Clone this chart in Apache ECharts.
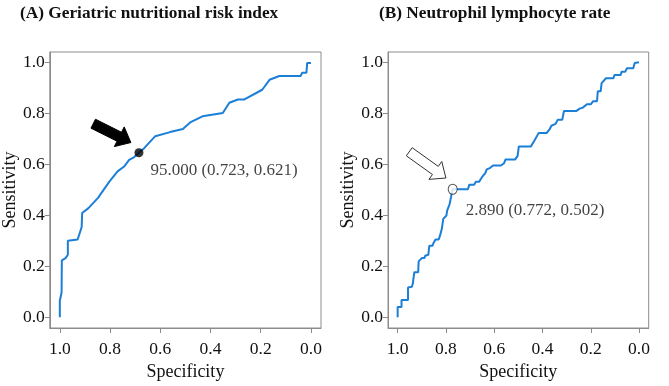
<!DOCTYPE html>
<html>
<head>
<meta charset="utf-8">
<script src="https://cdn.jsdelivr.net/npm/echarts@6/dist/echarts.min.js"></script>
<style>
  html, body { margin: 0; padding: 0; background: #fff; }
  #chart { width: 669px; height: 386px; }
</style>
</head>
<body>
<div id="chart"></div>
<script>
// ROC curves: [specificity, sensitivity]
var gnriRoc = [
    [1.0, 0.0], [1.0, 0.065], [0.993, 0.097], [0.992, 0.223], [0.977, 0.232], [0.968, 0.245],
    [0.968, 0.30], [0.929, 0.305], [0.913, 0.354], [0.911, 0.409], [0.886, 0.428], [0.847, 0.469],
    [0.834, 0.488], [0.802, 0.533], [0.77, 0.572], [0.744, 0.591], [0.724, 0.617], [0.705, 0.627],
    [0.685, 0.645], [0.665, 0.662], [0.62, 0.71], [0.561, 0.726], [0.51, 0.738], [0.481, 0.764],
    [0.432, 0.788], [0.351, 0.801], [0.325, 0.841], [0.291, 0.854], [0.265, 0.854], [0.194, 0.892],
    [0.165, 0.931], [0.126, 0.946], [0.041, 0.946], [0.035, 0.959], [0.018, 0.959], [0.015, 0.997],
    [0.0, 0.997]
];
var nlrRoc = [
    [1.0, 0.0], [1.0, 0.04], [0.984, 0.04], [0.984, 0.068], [0.957, 0.068], [0.957, 0.117],
    [0.941, 0.12], [0.937, 0.133], [0.931, 0.133], [0.931, 0.177], [0.915, 0.177], [0.913, 0.219],
    [0.9, 0.232], [0.889, 0.232], [0.886, 0.241], [0.873, 0.245], [0.869, 0.28], [0.856, 0.28],
    [0.852, 0.29], [0.843, 0.305], [0.83, 0.305], [0.824, 0.322], [0.817, 0.347], [0.813, 0.347],
    [0.811, 0.386], [0.798, 0.399], [0.795, 0.418], [0.787, 0.418], [0.785, 0.443], [0.778, 0.476],
    [0.772, 0.502], [0.748, 0.502], [0.709, 0.502], [0.703, 0.52], [0.683, 0.52], [0.676, 0.531],
    [0.663, 0.531], [0.65, 0.55], [0.637, 0.565], [0.631, 0.58], [0.618, 0.585], [0.605, 0.595],
    [0.572, 0.595], [0.559, 0.604], [0.553, 0.619], [0.513, 0.619], [0.503, 0.633], [0.498, 0.67],
    [0.448, 0.67], [0.435, 0.69], [0.416, 0.722], [0.383, 0.722], [0.37, 0.738], [0.363, 0.751],
    [0.346, 0.758], [0.337, 0.774], [0.318, 0.774], [0.311, 0.809], [0.259, 0.809], [0.246, 0.818],
    [0.233, 0.822], [0.216, 0.835], [0.2, 0.835], [0.19, 0.847], [0.174, 0.847], [0.171, 0.886],
    [0.159, 0.886], [0.155, 0.918], [0.137, 0.937], [0.106, 0.937], [0.102, 0.95], [0.076, 0.95],
    [0.072, 0.963], [0.057, 0.963], [0.05, 0.976], [0.024, 0.976], [0.018, 0.997], [0.0, 1.0]
];

// cut-off points and their labels
var gnriCut = [0.685, 0.645];
var nlrCut = [0.772, 0.502];
var cutLabels = ['95.000 (0.723, 0.621)', '2.890 (0.772, 0.502)'];

// arrows: [tailX, tailY, tipX, tipY]
var gnriArrow = [0.867, 0.759, 0.717, 0.685];
var nlrArrow = [0.952, 0.649, 0.80, 0.546];

var tickValues = [0, 0.2, 0.4, 0.6, 0.8, 1.0];
var panelTitles = ['(A) Geriatric nutritional risk index', '(B) Neutrophil lymphocyte rate'];
var xName = 'Specificity';
var yName = 'Sensitivity';

var FONT = '"Liberation Serif", "Times New Roman", serif';
var AXIS_GRAY = '#8c8c8c';
var LINE_BLUE = '#1b7fd8';

var oChart = echarts.init(document.getElementById('chart'));

function makeXAxis(idx) {
    return {
        type: 'value', gridIndex: idx, inverse: true,
        min: -0.04, max: 1.04,
        name: xName, nameLocation: 'middle', nameGap: 35,
        nameTextStyle: { fontFamily: FONT, fontSize: 18, color: '#111' },
        axisLine: { show: true, onZero: false, lineStyle: { color: AXIS_GRAY } },
        axisTick: { show: true, length: 5, customValues: tickValues, lineStyle: { color: AXIS_GRAY } },
        axisLabel: {
            customValues: tickValues, margin: 12,
            fontFamily: FONT, fontSize: 17.5, color: '#111',
            formatter: function (v) { return v.toFixed(1); }
        },
        splitLine: { show: false }
    };
}

function makeYAxis(idx) {
    return {
        type: 'value', gridIndex: idx,
        min: -0.042, max: 1.04,
        name: yName, nameLocation: 'middle', nameGap: 25,
        nameTextStyle: { fontFamily: FONT, fontSize: 18, color: '#111' },
        axisLine: { show: true, onZero: false, lineStyle: { color: AXIS_GRAY } },
        axisTick: { show: true, length: 5, customValues: tickValues, lineStyle: { color: AXIS_GRAY } },
        axisLabel: {
            customValues: tickValues, margin: 5,
            fontFamily: FONT, fontSize: 17.5, color: '#111',
            formatter: function (v) { return v.toFixed(1); }
        },
        splitLine: { show: false }
    };
}

// arrow polygon built from data coords
function arrowRender(fill, stroke) {
    return function (params, api) {
        var p1 = api.coord([api.value(0), api.value(1)]);
        var p2 = api.coord([api.value(2), api.value(3)]);
        var dx = p2[0] - p1[0], dy = p2[1] - p1[1];
        var len = Math.sqrt(dx * dx + dy * dy);
        var ux = dx / len, uy = dy / len;
        var nx = -uy, ny = ux;
        var w1 = 5, w2 = 11, h = 13;
        var bx = p2[0] - ux * h, by = p2[1] - uy * h;
        var pts = [
            [p1[0] + nx * w1, p1[1] + ny * w1],
            [bx + nx * w1, by + ny * w1],
            [bx + nx * w2, by + ny * w2],
            [p2[0], p2[1]],
            [bx - nx * w2, by - ny * w2],
            [bx - nx * w1, by - ny * w1],
            [p1[0] - nx * w1, p1[1] - ny * w1]
        ];
        return {
            type: 'polygon',
            shape: { points: pts },
            style: { fill: fill, stroke: stroke, lineWidth: 1 }
        };
    };
}

var oOption = {
    backgroundColor: '#fff',
    animation: false,
    title: [
        { text: panelTitles[0], left: 15, top: 0,
          textStyle: { fontFamily: FONT, fontSize: 17.3, fontWeight: 'bold', color: '#111' } },
        { text: panelTitles[1], left: 374, top: 0,
          textStyle: { fontFamily: FONT, fontSize: 17.3, fontWeight: 'bold', color: '#111' } }
    ],
    grid: [
        { left: 44, top: 52, width: 277, height: 281, show: true, borderColor: AXIS_GRAY, borderWidth: 1 },
        { left: 388, top: 52, width: 278, height: 281, show: true, borderColor: AXIS_GRAY, borderWidth: 1 }
    ],
    xAxis: [makeXAxis(0), makeXAxis(1)],
    yAxis: [makeYAxis(0), makeYAxis(1)],
    series: [
        {
            type: 'line', xAxisIndex: 0, yAxisIndex: 0, data: gnriRoc,
            showSymbol: false, lineStyle: { color: LINE_BLUE, width: 2 }, z: 2
        },
        {
            type: 'line', xAxisIndex: 1, yAxisIndex: 1, data: nlrRoc,
            showSymbol: false, lineStyle: { color: LINE_BLUE, width: 2 }, z: 2
        },
        {
            type: 'custom', xAxisIndex: 0, yAxisIndex: 0, data: [gnriArrow],
            encode: { x: [0, 2], y: [1, 3] },
            renderItem: arrowRender('#000', '#000'), z: 3
        },
        {
            type: 'custom', xAxisIndex: 1, yAxisIndex: 1, data: [nlrArrow],
            encode: { x: [0, 2], y: [1, 3] },
            renderItem: arrowRender('#fff', '#333'), z: 3
        },
        {
            type: 'scatter', xAxisIndex: 0, yAxisIndex: 0, data: [gnriCut],
            symbol: 'circle', symbolSize: 9,
            itemStyle: { color: '#000' },
            label: {
                show: true, position: 'right', offset: [2, 18],
                formatter: cutLabels[0],
                fontFamily: FONT, fontSize: 17, color: '#111'
            },
            z: 4
        },
        {
            type: 'scatter', xAxisIndex: 1, yAxisIndex: 1, data: [nlrCut],
            symbol: 'circle', symbolSize: [9, 10],
            itemStyle: { color: '#fff', borderColor: '#222', borderWidth: 1 },
            label: {
                show: true, position: 'right', offset: [3, 21],
                formatter: cutLabels[1],
                fontFamily: FONT, fontSize: 17, color: '#111'
            },
            z: 4
        }
    ]
};

oChart.setOption(oOption);
</script>
</body>
</html>
